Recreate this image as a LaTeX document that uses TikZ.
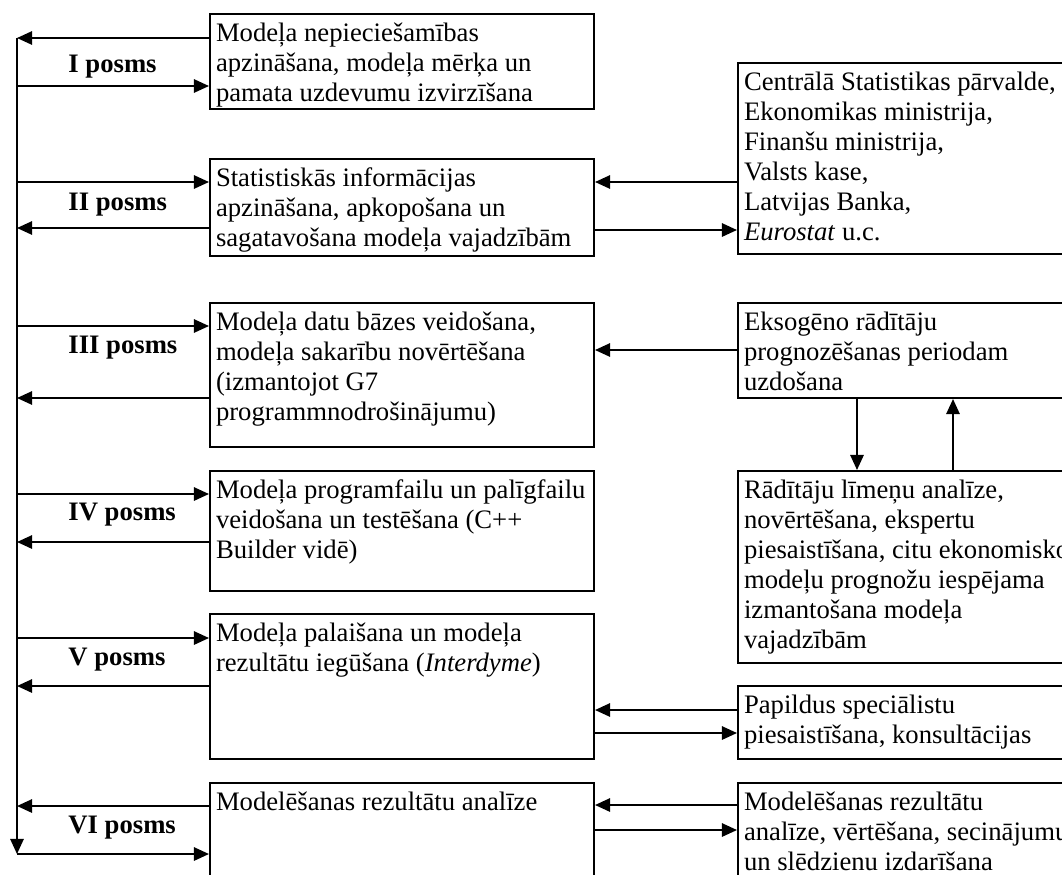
\documentclass[tikz,border=0pt]{standalone}
\usepackage{fontspec}
\setmainfont{Liberation Serif}
\usetikzlibrary{arrows.meta}
\newlength{\pxu}\setlength{\pxu}{0.45pt}
% box text: width, height (px), lines
\newcommand{\stagetext}[3]{\parbox[t][\dimexpr#2\pxu-12\pxu\relax][t]{\dimexpr#1\pxu-12\pxu\relax}{\begin{tabular}[t]{@{}l@{}}#3\end{tabular}}}

\begin{document}
\begin{tikzpicture}[
    x=0.45pt, y=-0.45pt,
    font=\fontsize{12}{13.5}\selectfont,
    stage/.style={draw, rectangle, line width=0.9pt, inner sep=2.7pt, anchor=north west},
    source/.style={stage},
    posms/.style={anchor=base west, inner sep=0pt, font=\fontsize{12}{13.5}\selectfont\bfseries},
    arrow/.style={-{Triangle[length=6.8pt,width=6pt]}, line width=0.9pt}
]
\useasboundingbox (0,0) rectangle (1062,874);
\clip (0,0) rectangle (1062,874);

% Stages (left column)
\node[stage] (stageI) at (209,13) {\stagetext{384}{95}{Modeļa nepieciešamības\\ apzināšana, modeļa mērķa un\\ pamata uzdevumu izvirzīšana}};
\node[stage] (stageII) at (209,158) {\stagetext{384}{97}{Statistiskās informācijas\\ apzināšana, apkopošana un\\ sagatavošana modeļa vajadzībām}};
\node[stage] (stageIII) at (209,302) {\stagetext{384}{144}{Modeļa datu bāzes veidošana,\\ modeļa sakarību novērtēšana\\ (izmantojot G7\\ programmnodrošinājumu)}};
\node[stage] (stageIV) at (209,470) {\stagetext{384}{120}{Modeļa programfailu un palīgfailu\\ veidošana un testēšana (C++\\ Builder vidē)}};
\node[stage] (stageV) at (209,613) {\stagetext{384}{145}{Modeļa palaišana un modeļa\\ rezultātu iegūšana (\textit{Interdyme})}};
\node[stage] (stageVI) at (209,782) {\stagetext{384}{150}{Modelēšanas rezultātu analīze}};

% Sources (right column)
\node[source] (srcStat) at (737,62) {\stagetext{420}{191}{Centrālā Statistikas pārvalde,\\ Ekonomikas ministrija,\\ Finanšu ministrija,\\ Valsts kase,\\ Latvijas Banka,\\ \textit{Eurostat} u.c.}};
\node[source] (srcExo) at (737,302) {\stagetext{420}{95}{Eksogēno rādītāju\\ prognozēšanas periodam\\ uzdošana}};
\node[source] (srcLevels) at (737,470) {\stagetext{420}{192}{Rādītāju līmeņu analīze,\\ novērtēšana, ekspertu\\ piesaistīšana, citu ekonomisko\\ modeļu prognožu iespējama\\ izmantošana modeļa\\ vajadzībām}};
\node[source] (srcExperts) at (737,685) {\stagetext{420}{73}{Papildus speciālistu\\ piesaistīšana, konsultācijas}};
\node[source] (srcAnalysis) at (737,782) {\stagetext{420}{150}{Modelēšanas rezultātu\\ analīze, vērtēšana, secinājumu\\ un slēdzienu izdarīšana}};

% Stage labels
\node[posms] (lblI) at (68,72) {I posms};
\node[posms] (lblII) at (68,210) {II posms};
\node[posms] (lblIII) at (68,353) {III posms};
\node[posms] (lblIV) at (68,520) {IV posms};
\node[posms] (lblV) at (68,665) {V posms};
\node[posms] (lblVI) at (68,833) {VI posms};

% Trunk line
\coordinate (trunkTop) at (17,38);
\coordinate (trunkBot) at (17,854);
\draw[arrow] (trunkTop) -- (trunkBot);

% Trunk <-> stages
\draw[arrow] (stageI.west |- trunkTop) -- (trunkTop);
\draw[arrow] (trunkTop |- 0,86) -- (stageI.west |- 0,86);
\draw[arrow] (trunkTop |- 0,182) -- (stageII.west |- 0,182);
\draw[arrow] (stageII.west |- 0,228) -- (trunkTop |- 0,228);
\draw[arrow] (trunkTop |- 0,326) -- (stageIII.west |- 0,326);
\draw[arrow] (stageIII.west |- 0,398) -- (trunkTop |- 0,398);
\draw[arrow] (trunkTop |- 0,494) -- (stageIV.west |- 0,494);
\draw[arrow] (stageIV.west |- 0,542) -- (trunkTop |- 0,542);
\draw[arrow] (trunkTop |- 0,638) -- (stageV.west |- 0,638);
\draw[arrow] (stageV.west |- 0,686) -- (trunkTop |- 0,686);
\draw[arrow] (stageVI.west |- 0,806) -- (trunkTop |- 0,806);
\draw[arrow] (trunkBot) -- (stageVI.west |- trunkBot);

% Sources <-> stages
\draw[arrow] (srcStat.west |- 0,182) -- (stageII.east |- 0,182);
\draw[arrow] (stageII.east |- 0,230) -- (srcStat.west |- 0,230);
\draw[arrow] (srcExo.west |- 0,350) -- (stageIII.east |- 0,350);
\draw[arrow] (srcExperts.west |- 0,710) -- (stageV.east |- 0,710);
\draw[arrow] (stageV.east |- 0,733) -- (srcExperts.west |- 0,733);
\draw[arrow] (srcAnalysis.west |- 0,805) -- (stageVI.east |- 0,805);
\draw[arrow] (stageVI.east |- 0,830) -- (srcAnalysis.west |- 0,830);

% Exogenous <-> levels loop
\coordinate (downX) at (857,0);
\coordinate (upX) at (953,0);
\draw[arrow] (downX |- srcExo.south) -- (downX |- srcLevels.north);
\draw[arrow] (upX |- srcLevels.north) -- (upX |- srcExo.south);
\end{tikzpicture}
\end{document}
